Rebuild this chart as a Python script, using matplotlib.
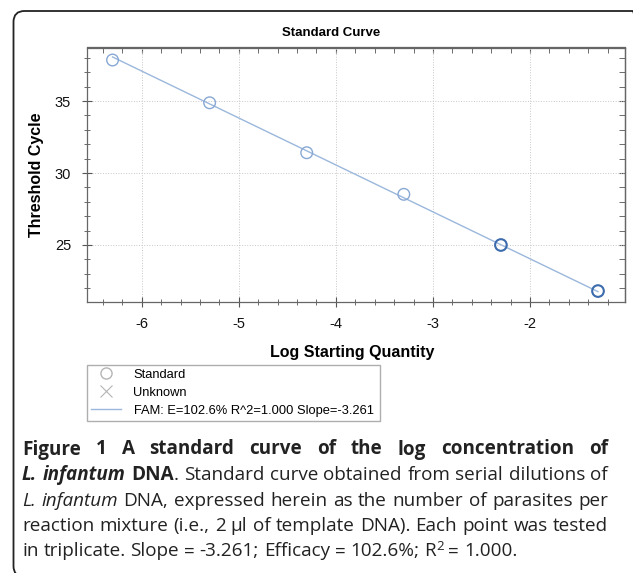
import numpy as np
import matplotlib
matplotlib.use('Agg')
import matplotlib.pyplot as plt
from matplotlib.lines import Line2D
from matplotlib.patches import FancyBboxPatch
from matplotlib.ticker import MultipleLocator
from matplotlib.transforms import IdentityTransform

# data
log_qty = [-6.3, -5.3, -4.3, -3.3, -2.3, -1.3]
ct_std = [37.85, 34.88, 31.41, 28.52, 25.00, 21.80]
slope = -3.261
eff = 102.6
r2 = 1.000

W, H = 633, 573
plt.rcParams['font.family'] = ['Liberation Sans', 'DejaVu Sans']
plt.rcParams['axes.unicode_minus'] = False
fig = plt.figure(figsize=(W / 100, H / 100), dpi=100)

# plot area (pixel layout of the original)
ax = fig.add_axes([87 / W, 1 - 302 / H, 538 / W, 254.5 / H])

x = np.array(log_qty)
y = np.array(ct_std)
b = y.mean() - slope * x.mean()
xf = np.array([x.min(), x.max()])
ax.plot(xf, slope * xf + b, color='#9bb7dc', lw=1.0, zorder=2)
ax.scatter(x[:4], y[:4], s=70, facecolors='none', edgecolors='#88a8d4', linewidths=1.0, zorder=3)
ax.scatter(x[4:], y[4:], s=70, facecolors='none', edgecolors='#3c6cad', linewidths=1.5, zorder=3)

ax.set_xlim(-6.563, -1.022)
ax.set_ylim(21.04, 38.72)
ax.xaxis.set_major_locator(MultipleLocator(1))
ax.xaxis.set_minor_locator(MultipleLocator(0.2))
ax.yaxis.set_major_locator(MultipleLocator(5))
ax.yaxis.set_minor_locator(MultipleLocator(1))
ax.grid(True, which='major', color='#c8c8c8', ls=':', lw=0.7)
for s in ax.spines.values():
    s.set_color('#666666')
    s.set_linewidth(0.9)
ax.tick_params(which='both', direction='inout', color='#555555', labelcolor='#111111', labelsize=10.5)
ax.tick_params(which='major', length=7)
ax.tick_params(which='minor', length=5)
ax.tick_params(axis='x', pad=7)
ax.tick_params(axis='y', pad=8)

# inward ticks on top and right
sx = ax.secondary_xaxis('top')
sx.xaxis.set_major_locator(MultipleLocator(1))
sx.xaxis.set_minor_locator(MultipleLocator(0.2))
sx.tick_params(which='both', direction='in', length=4, color='#555555', labeltop=False)
sy = ax.secondary_yaxis('right')
sy.yaxis.set_major_locator(MultipleLocator(5))
sy.yaxis.set_minor_locator(MultipleLocator(1))
sy.tick_params(which='both', direction='in', length=4, color='#555555', labelright=False)
for a in (sx, sy):
    for s in a.spines.values():
        s.set_color('#666666')
        s.set_linewidth(0.9)

ax.set_xlabel('Log Starting Quantity', fontsize=11.5, fontweight='bold')
ax.xaxis.label.set_va('center')
ax.xaxis.set_label_coords((352 - 87) / 538, (302 - 352) / 254.5)
ax.set_ylabel('Threshold Cycle', fontsize=11.5, fontweight='bold')
ax.yaxis.label.set_va('center')
ax.yaxis.set_label_coords((37 - 87) / 538, 0.5)

fig.text(331 / W, 1 - 32.7 / H, 'Standard Curve', ha='center', va='center',
         fontsize=9.5, fontweight='bold')

# legend below the plot
h1 = Line2D([], [], ls='none', marker='o', mfc='none', mec='#b5b5b5', ms=8, mew=1.0)
h2 = Line2D([], [], ls='none', marker='x', mec='#b5b5b5', ms=9, mew=0.8)
h3 = Line2D([], [], color='#9bb7dc', lw=1.0)
leg = fig.legend([h1, h2, h3],
                 ['Standard', 'Unknown', f'FAM: E={eff}% R^2={r2:.3f} Slope={slope}'],
                 loc='upper left', bbox_to_anchor=(87 / W, 1 - 421 / H, 293 / W, 56 / H),
                 mode='expand', frameon=True, fancybox=False, edgecolor='#9a9a9a',
                 fontsize=9.3, handlelength=2.3, handletextpad=1.0, labelspacing=0.45,
                 borderpad=0.3, borderaxespad=0)
leg.get_frame().set_linewidth(1.0)

# caption
STY = {'r': {}, 'b': {'weight': 'bold'}, 'i': {'style': 'italic'},
       'bi': {'weight': 'bold', 'style': 'italic'}, 'sup': {}}


def words_of(text, sty):
    return [[(w, sty)] for w in text.split()]


cap_lines = [
    words_of('Figure 1 A standard curve of the log concentration of', 'b'),
    [[('L.', 'bi')], [('infantum', 'bi')], [('DNA', 'b'), ('.', 'r')]]
    + words_of('Standard curve obtained from serial dilutions of', 'r'),
    [[('L.', 'i')], [('infantum', 'i')]]
    + words_of('DNA, expressed herein as the number of parasites per', 'r'),
    words_of('reaction mixture (i.e., 2 \u00b5l of template DNA). Each point was tested', 'r'),
    words_of(f'in triplicate. Slope = {slope}; Efficacy = {eff}%;', 'r')
    + [[('R', 'r'), ('2', 'sup')]] + words_of(f'= {r2:.3f}.', 'r'),
]
justify = [True, True, True, True, False]
baselines = [454.5, 480, 505.5, 531, 556.5]
x0, x1 = 22, 608

renderer = fig.canvas.get_renderer()


def make(txt, sty, size):
    fs = size * 0.7 if sty == 'sup' else size
    return fig.text(0, 0, txt, transform=IdentityTransform(), family='Open Sans',
                    fontsize=fs, va='baseline', ha='left', color='#222222', **STY[sty])


def width_of(txt, sty, size):
    t = make(txt, sty, size)
    w = t.get_window_extent(renderer).width
    t.remove()
    return w


def natural(line, size):
    sp = width_of('a a', 'r', size) - width_of('aa', 'r', size)
    ws = [sum(width_of(t, s, size) for t, s in word) for word in line]
    return ws, sp


ws, sp = natural(cap_lines[2], 12)
cap_size = 12 * (x1 - x0) / (sum(ws) + sp * (len(ws) - 1)) * 0.985

for line, jus, bl in zip(cap_lines, justify, baselines):
    ws, sp = natural(line, cap_size)
    gap = (x1 - x0 - sum(ws)) / (len(ws) - 1) if jus else sp
    xp = x0
    yb = H - bl
    for word, w in zip(line, ws):
        xx = xp
        for t, s in word:
            tt = make(t, s, cap_size)
            tt.set_position((xx, yb + (6 if s == 'sup' else 0)))
            xx += tt.get_window_extent(renderer).width
        xp += w + gap

# rounded frame around figure + caption (right and bottom edges run off the image)
box = FancyBboxPatch((13.5, -4), 630, 566, boxstyle='round,pad=0,rounding_size=11',
                     transform=IdentityTransform(), fill=False, ec='#222222', lw=1.3)
fig.add_artist(box)

fig.savefig('out.png', dpi=100)
